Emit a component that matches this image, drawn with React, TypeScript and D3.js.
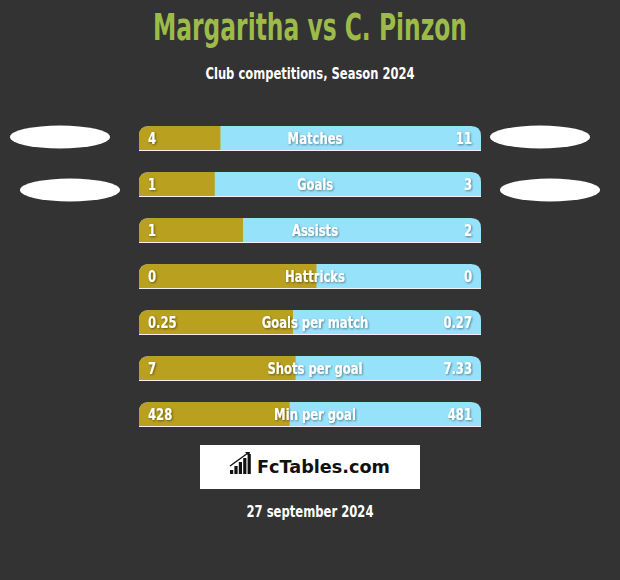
import { useMemo } from 'react';
import * as d3 from 'd3';

// stats, left player vs right player
const categories = ['Matches', 'Goals', 'Assists', 'Hattricks', 'Goals per match', 'Shots per goal', 'Min per goal'];
const leftValues = [4, 1, 1, 0, 0.25, 7, 428];
const rightValues = [11, 3, 2, 0, 0.27, 7.33, 481];
const leftLabels = ['4', '1', '1', '0', '0.25', '7', '428'];
const rightLabels = ['11', '3', '2', '0', '0.27', '7.33', '481'];

const title = 'Margaritha vs C. Pinzon';
const subtitle = 'Club competitions, Season 2024';
const dateText = '27 september 2024';

const W = 620;
const H = 580;
const BG = '#333333';
const GOLD = '#b9a01e';
const BLUE = '#97e2fb';
const GREEN = '#9cbb48';
const FONT = '"Liberation Sans Narrow", "DejaVu Sans Condensed", "Roboto Condensed", sans-serif';

// squeezed label, anchored at (x,y)
function Label({ x, y, anchor, children }: { x: number; y: number; anchor: string; children: string }) {
  return (
    <g transform={`translate(${x},${y}) scale(0.86,1.08)`}>
      <text x={0} y={0} textAnchor={anchor}>{children}</text>
    </g>
  );
}

export default function App() {
  const barX0 = 139;
  const barX1 = 481;
  const barH = 24;
  const r = 10;

  const y = useMemo(() => d3.scalePoint<string>().domain(categories).range([138, 414]), []);
  // gold share -> pixel end; fctables draws it a little left of a plain split
  const share = useMemo(() => d3.scaleLinear().domain([0, 1]).range([barX0 - 9, barX0 - 9 + 339]), []);

  const w = barX1 - barX0;
  // bar outline, top corners rounded, in local coords (0,0 = top-left)
  const shape = `M0,${barH} L0,${r} Q0,0 ${r},0 L${w - r},0 Q${w},0 ${w},${r} L${w},${barH} Z`;

  const ellipses = [
    { cx: 60, cy: 137 },
    { cx: 70, cy: 190 },
    { cx: 540, cy: 137 },
    { cx: 550, cy: 190 },
  ];

  const iconBars = [4, 8, 12, 16, 20];

  return (
    <svg width={W} height={H} style={{ display: 'block', position: 'absolute', left: 0, top: 0 }}>
      <defs>
        <clipPath id="barclip">
          <path d={shape} />
        </clipPath>
        <filter id="tshadow" x="-10%" y="-20%" width="130%" height="160%">
          <feDropShadow dx="1" dy="1" stdDeviation="0.8" floodColor="#000" floodOpacity="0.45" />
        </filter>
      </defs>
      <rect width={W} height={H} fill={BG} />

      <text x={W / 2} y={40} textAnchor="middle" fill={GREEN} fontFamily={FONT} fontWeight="bold"
        fontSize={38} textLength={314} lengthAdjust="spacingAndGlyphs">{title}</text>
      <text x={W / 2} y={79} textAnchor="middle" fill="#fff" fontFamily={FONT} fontWeight="bold"
        fontSize={16} textLength={209} lengthAdjust="spacingAndGlyphs">{subtitle}</text>

      {ellipses.map((e, i) => (
        <ellipse key={i} cx={e.cx} cy={e.cy} rx={50} ry={11.5} fill="#fff" />
      ))}

      {categories.map((c, i) => {
        const cy = y(c) ?? 0;
        const top = cy - 12;
        const tot = leftValues[i] + rightValues[i];
        const f = tot === 0 ? 0.55 : leftValues[i] / tot;
        const gx = share(f) - barX0;
        return (
          <g key={c} transform={`translate(${barX0},${top})`}>
            <path d={shape} fill={BLUE} />
            <rect x={0} y={0} width={gx} height={barH} fill={GOLD} clipPath="url(#barclip)" />
            <line x1={0} x2={w} y1={barH + 0.5} y2={barH + 0.5} stroke="#f2f2f2" strokeWidth={1.2} />
            <g fill="#fff" fontFamily={FONT} fontWeight="bold" fontSize={15} filter="url(#tshadow)">
              <Label x={9} y={17.5} anchor="start">{leftLabels[i]}</Label>
              <Label x={w / 2 + 5} y={17.5} anchor="middle">{c}</Label>
              <Label x={w - 9} y={17.5} anchor="end">{rightLabels[i]}</Label>
            </g>
          </g>
        );
      })}

      <rect x={200} y={445} width={220} height={44} fill="#fff" />
      <g transform="translate(230,452)">
        {iconBars.map((h, i) => (
          <rect key={i} x={i * 4.4} y={22 - h} width={3.2} height={h} fill="#111" />
        ))}
        <path d="M0,14 L18,1" stroke="#111" strokeWidth={1.4} fill="none" />
        <path d="M15,0 L20,0 L19,4 Z" fill="#111" />
      </g>
      <text x={257} y={473} fill="#111" fontFamily='"DejaVu Sans", sans-serif' fontWeight="bold"
        fontSize={18} textLength={133} lengthAdjust="spacingAndGlyphs">FcTables.com</text>

      <text x={W / 2} y={517} textAnchor="middle" fill="#fff" fontFamily={FONT} fontWeight="bold"
        fontSize={16} textLength={127} lengthAdjust="spacingAndGlyphs">{dateText}</text>
    </svg>
  );
}
